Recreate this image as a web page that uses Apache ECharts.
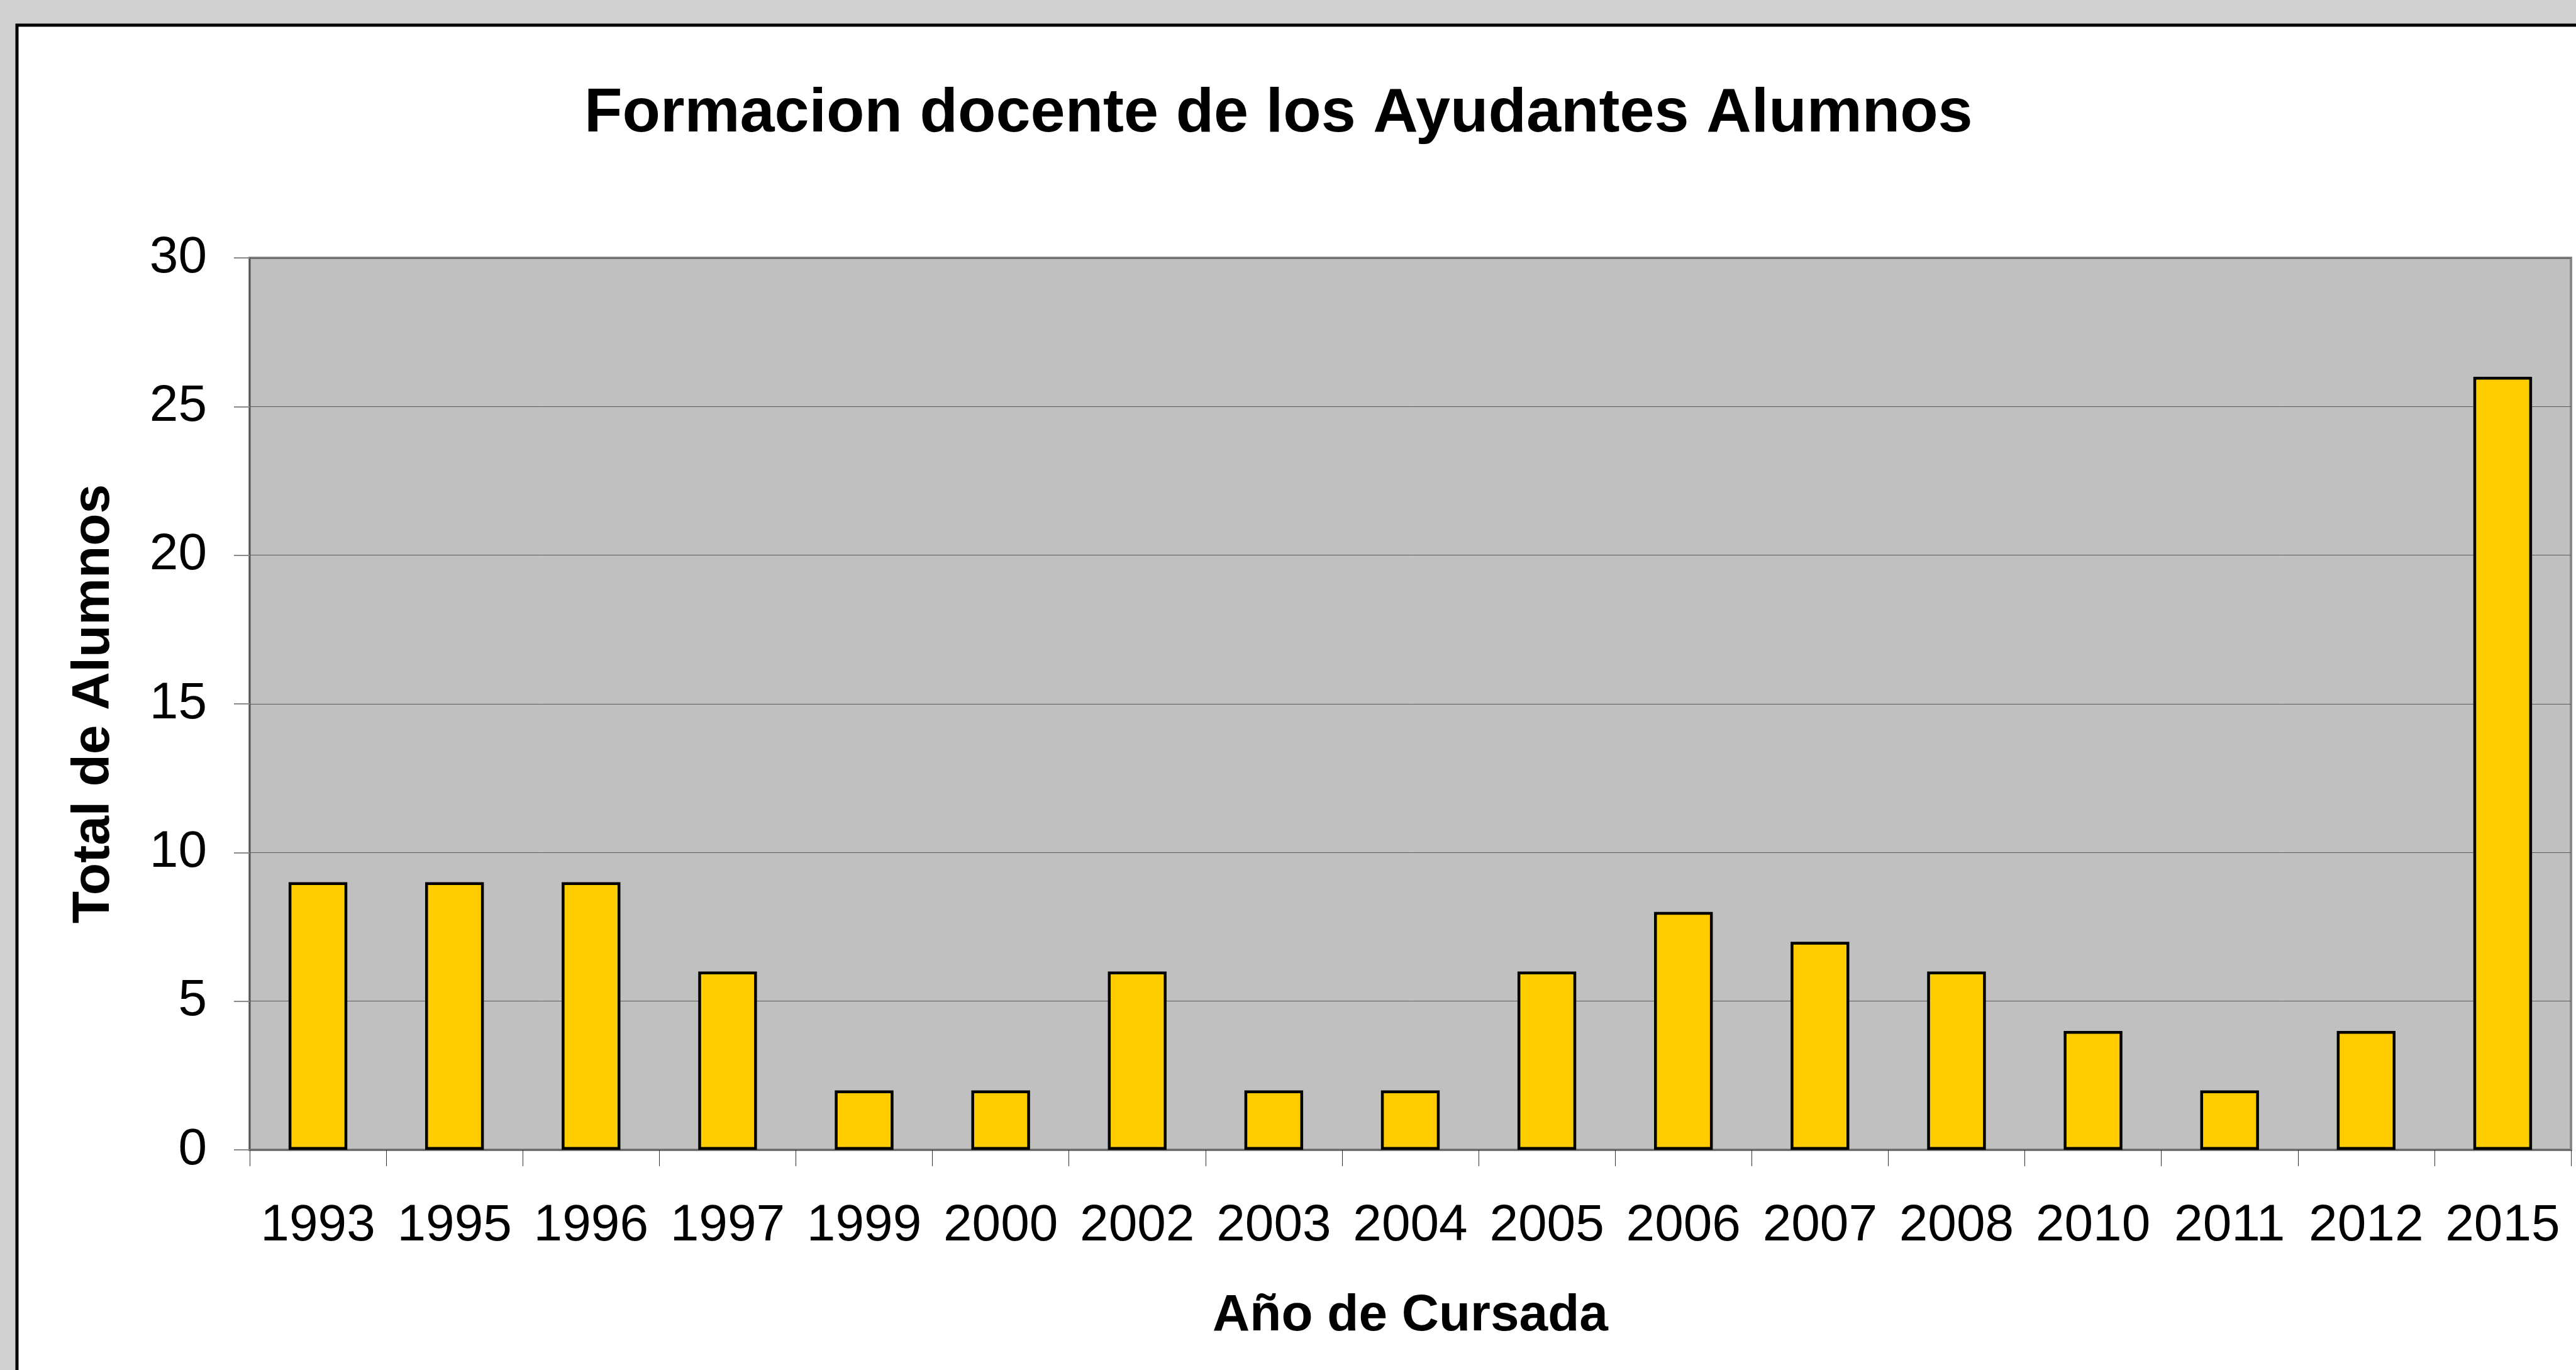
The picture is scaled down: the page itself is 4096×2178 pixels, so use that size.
<!DOCTYPE html>
<html>
<head>
<meta charset="utf-8">
<script src="https://cdn.jsdelivr.net/npm/echarts@6/dist/echarts.min.js"></script>
<style>
  html, body { margin: 0; padding: 0; background: #d0d0d0; }
  #chart { width: 4096px; height: 2178px; }
</style>
</head>
<body>
<div id="chart"></div>
<script>
const titleText = 'Formacion docente de los Ayudantes Alumnos';
const xAxisName = 'Año de Cursada';
const yAxisName = 'Total de Alumnos';
const years = ['1993','1995','1996','1997','1999','2000','2002','2003','2004','2005','2006','2007','2008','2010','2011','2012','2015'];
const alumnos = [9, 9, 9, 6, 2, 2, 6, 2, 2, 6, 8, 7, 6, 4, 2, 4, 26];
const yMin = 0, yMax = 30, yStep = 5;

const FONT = "'Liberation Sans', Arial, sans-serif";
const chart = echarts.init(document.getElementById('chart'), null, { renderer: 'canvas' });

chart.setOption({
  backgroundColor: '#d0d0d0',
  animation: false,
  graphic: [{
    type: 'rect',
    z: -10,
    silent: true,
    shape: { x: 27, y: 40, width: 4200, height: 2300 },
    style: { fill: '#ffffff', stroke: '#000000', lineWidth: 5 }
  }],
  title: {
    text: titleText,
    left: 924,
    top: 127,
    textStyle: { fontFamily: FONT, fontSize: 99, fontWeight: 'bold', color: '#000' }
  },
  grid: {
    left: 397, right: 8, top: 410, bottom: 350,
    show: true,
    backgroundColor: '#c0c0c0',
    borderColor: '#888888',
    borderWidth: 4
  },
  xAxis: {
    type: 'category',
    data: years,
    name: xAxisName,
    nameLocation: 'middle',
    nameGap: 223,
    nameTextStyle: { fontFamily: FONT, fontSize: 82, fontWeight: 'bold', color: '#000' },
    axisLine: { show: true, lineStyle: { color: '#666666', width: 2 } },
    axisTick: { show: true, length: 26, lineStyle: { color: '#333333', width: 1 } },
    axisLabel: { margin: 80, fontFamily: FONT, fontSize: 82, color: '#000', interval: 0 },
    splitLine: { show: false }
  },
  yAxis: {
    type: 'value',
    min: yMin, max: yMax, interval: yStep,
    name: yAxisName,
    nameLocation: 'middle',
    nameRotate: 90,
    nameGap: 205,
    nameTextStyle: { fontFamily: FONT, fontSize: 84, fontWeight: 'bold', color: '#000' },
    axisLine: { show: true, lineStyle: { color: '#555555', width: 2 } },
    axisTick: { show: true, length: 25, lineStyle: { color: '#888888', width: 2 } },
    axisLabel: { margin: 68, fontFamily: FONT, fontSize: 82, color: '#000' },
    splitLine: { show: true, lineStyle: { color: '#5a5a5a', width: 1 } }
  },
  series: [{
    type: 'bar',
    data: alumnos,
    barWidth: '43%',
    itemStyle: { color: '#ffcc00', borderColor: '#000000', borderWidth: 4.5 }
  }]
});
</script>
</body>
</html>
